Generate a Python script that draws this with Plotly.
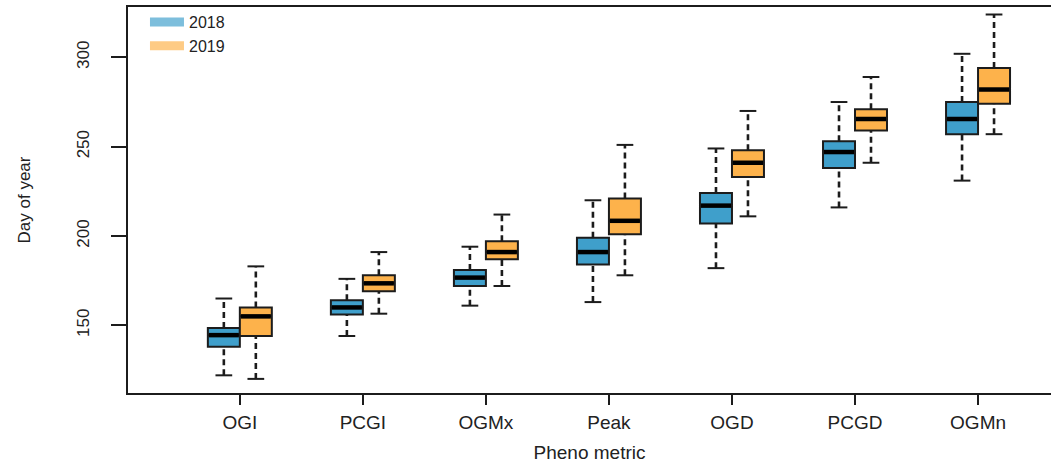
import plotly.graph_objects as go

categories = ["OGI", "PCGI", "OGMx", "Peak", "OGD", "PCGD", "OGMn"]
years = ["2018", "2019"]

lower_2018 = [122, 144, 161, 163, 182, 216, 231]
q1_2018 = [138, 156, 172, 184, 207, 238, 257]
median_2018 = [144.5, 160, 176.7, 191, 217, 247, 265.5]
q3_2018 = [148.5, 164, 181, 199, 224, 253, 275]
upper_2018 = [165, 176, 194, 220, 249, 275, 302]

lower_2019 = [120, 156.5, 172, 178, 211, 241, 257]
q1_2019 = [144, 169, 187, 201, 233, 259, 274]
median_2019 = [155, 173.5, 191, 208.5, 241, 265.5, 282]
q3_2019 = [160, 178, 197, 221, 248, 271, 294]
upper_2019 = [183, 191, 212, 251, 270, 289, 324]

y_ticks = [150, 200, 250, 300]

# style
fills = {"2018": "#3f9fcb", "2019": "#fdb24b"}
legend_cols = {"2018": "rgba(63,159,203,0.68)", "2019": "rgba(253,178,75,0.68)"}
offsets = {"2018": -0.13, "2019": 0.13}
box_w = 0.26
cap_half = 0.068
ink = "#1c1c1c"
font_family = "Liberation Sans, Arial, Helvetica, sans-serif"

series = {
    "2018": (lower_2018, q1_2018, median_2018, q3_2018, upper_2018),
    "2019": (lower_2019, q1_2019, median_2019, q3_2019, upper_2019),
}

fig = go.Figure()

for yr in years:
    lo, q1, med, q3, up = series[yr]
    pos = [i + offsets[yr] for i in range(len(categories))]
    # dashed whiskers
    wx, wy = [], []
    for p, a, b, c, d in zip(pos, lo, q1, q3, up):
        wx += [p, p, None, p, p, None]
        wy += [a, b, None, c, d, None]
    fig.add_trace(go.Scatter(x=wx, y=wy, mode="lines", showlegend=False, hoverinfo="skip",
                             line=dict(color=ink, width=2.6, dash="6px,4px")))
    # caps
    cx, cy = [], []
    for p, a, d in zip(pos, lo, up):
        cx += [p - cap_half, p + cap_half, None, p - cap_half, p + cap_half, None]
        cy += [a, a, None, d, d, None]
    fig.add_trace(go.Scatter(x=cx, y=cy, mode="lines", showlegend=False, hoverinfo="skip",
                             line=dict(color=ink, width=2)))
    # boxes
    fig.add_trace(go.Box(x=pos, q1=q1, median=med, q3=q3, lowerfence=q1, upperfence=q3,
                         width=box_w, fillcolor=fills[yr], line=dict(color=ink, width=2),
                         showlegend=False, name=yr, whiskerwidth=0))
    # thick medians
    mx, my = [], []
    for p, m in zip(pos, med):
        mx += [p - box_w / 2 + 0.008, p + box_w / 2 - 0.008, None]
        my += [m, m, None]
    fig.add_trace(go.Scatter(x=mx, y=my, mode="lines", showlegend=False, hoverinfo="skip",
                             line=dict(color="#000000", width=4.5)))

# legend entries
for yr in years:
    fig.add_trace(go.Scatter(x=[None], y=[None], mode="lines", name=yr,
                             line=dict(color=legend_cols[yr], width=9)))

fig.update_layout(
    width=1051, height=468,
    margin=dict(l=128, r=0, t=7, b=75, autoexpand=False),
    paper_bgcolor="white", plot_bgcolor="white",
    boxmode="overlay",
    font=dict(family=font_family, color="#222222", size=16),
    legend=dict(x=0.0184, y=1.005, xanchor="left", yanchor="top", bgcolor="rgba(0,0,0,0)",
                font=dict(size=16), tracegroupgap=0, itemwidth=34),
    xaxis=dict(
        range=[-0.909, 6.593], tickmode="array", tickvals=list(range(len(categories))),
        ticktext=categories, showline=True, linecolor=ink, linewidth=2, mirror=True,
        ticks="outside", ticklen=10, tickwidth=2, tickcolor=ink, showgrid=False,
        zeroline=False, tickfont=dict(size=19), ticklabelstandoff=1,
        title=dict(text="Pheno metric", font=dict(size=19), standoff=14),
    ),
    yaxis=dict(
        range=[112.1, 328.2], tickmode="array", tickvals=y_ticks,
        showline=True, linecolor=ink, linewidth=2, mirror=False,
        ticks="outside", ticklen=15, tickwidth=2, tickcolor=ink, showgrid=False,
        zeroline=False, tickangle=-90, tickfont=dict(size=17), ticklabelstandoff=15,
        title=dict(text="Day of year", font=dict(size=17), standoff=39),
    ),
)

fig.write_html("out.html", config={"displayModeBar": False},
               post_script="document.body.style.margin='0';")
